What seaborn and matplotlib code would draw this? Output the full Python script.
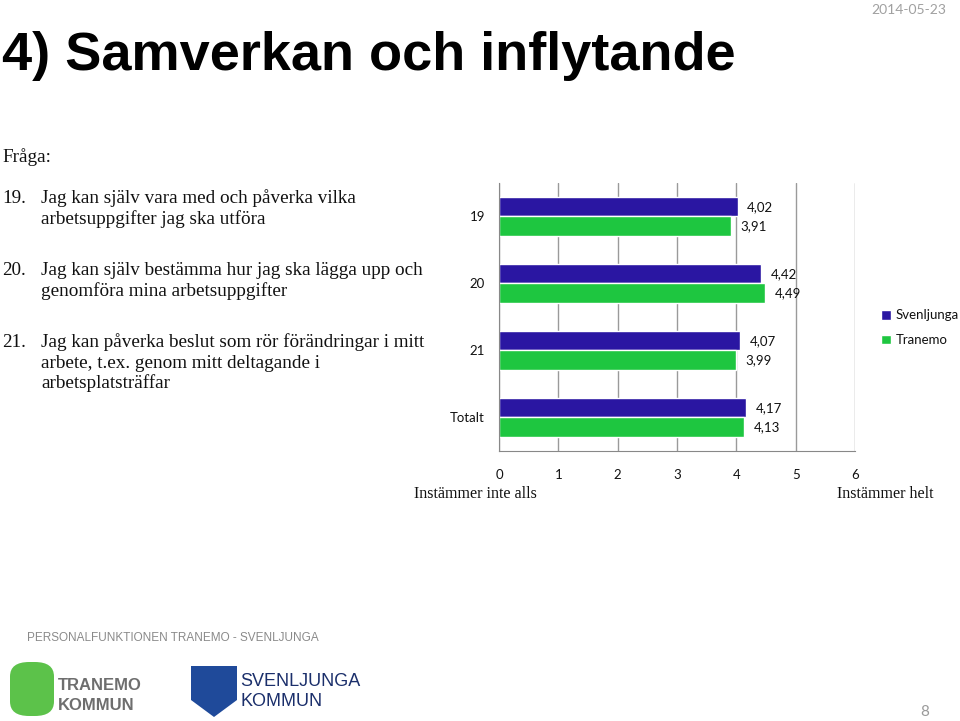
import pandas as pd
import matplotlib.pyplot as plt
import matplotlib.patches as mpatches
from matplotlib.ticker import FixedLocator
import seaborn as sns

categories = ["19", "20", "21", "Totalt"]
svenljunga = [4.02, 4.42, 4.07, 4.17]
tranemo = [3.91, 4.49, 3.99, 4.13]
regions = ["Svenljunga", "Tranemo"]
colors = ["#2a16a2", "#1ec640"]
x_ticks = [0, 1, 2, 3, 4, 5, 6]

questions = [
    ("19.", ["Jag kan själv vara med och påverka vilka", "arbetsuppgifter jag ska utföra"]),
    ("20.", ["Jag kan själv bestämma hur jag ska lägga upp och", "genomföra mina arbetsuppgifter"]),
    ("21.", ["Jag kan påverka beslut som rör förändringar i mitt", "arbete, t.ex. genom mitt deltagande i", "arbetsplatsträffar"]),
]

df = pd.DataFrame({
    "Fråga": categories * 2,
    "Medel": svenljunga + tranemo,
    "Kommun": [regions[0]] * 4 + [regions[1]] * 4,
})

sns.set_style("white")
plt.rcParams["font.family"] = ["Lato", "DejaVu Sans"]
plt.rcParams["text.color"] = "#111111"
plt.rcParams["xtick.color"] = "#111111"
plt.rcParams["ytick.color"] = "#111111"

fig = plt.figure(figsize=(9.6, 7.21), dpi=100)
ax = fig.add_axes([0.5198, 0.3745, 0.3708, 0.3717])

sns.barplot(data=df, y="Fråga", x="Medel", hue="Kommun", order=categories,
            hue_order=regions, palette=colors, orient="h", width=0.57,
            gap=0, ax=ax, legend=True, saturation=1)

for cont in ax.containers:
    ax.bar_label(cont, labels=[f"{v:.2f}".replace(".", ",") for v in cont.datavalues],
                 padding=7, fontsize=9.5, color="#111111")

ax.set_xlim(0, 6)
ax.set_ylim(3.5, -0.5)
ax.set_xticks(x_ticks)
ax.set_xticklabels([str(t) for t in x_ticks], fontsize=9.5)
ax.set_xlabel("")
ax.set_ylabel("")
ax.tick_params(axis="y", labelsize=9.5, length=0, pad=10)
ax.yaxis.set_minor_locator(FixedLocator([-0.5, 0.5, 1.5, 2.5, 3.5]))
ax.tick_params(axis="y", which="minor", length=5, color="#888888", direction="out")
ax.tick_params(axis="x", length=5, color="#888888", direction="out", pad=8)
ax.xaxis.grid(True, color="#9a9a9a", linewidth=1)
ax.set_axisbelow(True)
for s in ["top", "right"]:
    ax.spines[s].set_visible(False)
for s in ["left", "bottom"]:
    ax.spines[s].set_color("#888888")

leg = ax.legend(loc="center left", bbox_to_anchor=(1.058, 0.46), frameon=False,
                fontsize=9.5, handlelength=0.75, handleheight=0.75, handletextpad=0.35,
                labelspacing=0.95, borderaxespad=0)

serif = ["Liberation Serif", "DejaVu Serif"]
fig.text(475 / 960, 1 - 498 / 721, "Instämmer inte alls", family=serif, fontsize=11.6,
         ha="center", va="baseline")
fig.text(885 / 960, 1 - 498 / 721, "Instämmer helt", family=serif, fontsize=11.6,
         ha="center", va="baseline")

# title and header
fig.text(2 / 960, 1 - 70 / 721, "4) Samverkan och inflytande", fontsize=39,
         fontweight="bold", color="black", family=["Liberation Sans", "DejaVu Sans"],
         va="baseline")
fig.text(946 / 960, 1 - 14 / 721, "2014-05-23", fontsize=10, color="#a0a0a0",
         ha="right", va="baseline")

# question text
fig.text(2 / 960, 1 - 162 / 721, "Fråga:", family=serif, fontsize=13.8, va="baseline")
y0 = [203, 275, 347]
for (num, lines), y in zip(questions, y0):
    fig.text(2 / 960, 1 - y / 721, num, family=serif, fontsize=13.8, va="baseline")
    for i, line in enumerate(lines):
        fig.text(41 / 960, 1 - (y + i * 20.5) / 721, line, family=serif, fontsize=13.8,
                 va="baseline")

# footer
fig.text(27 / 960, 1 - 641 / 721, "PERSONALFUNKTIONEN TRANEMO - SVENLJUNGA",
         fontsize=8.5, color="#8a8a8a", family=["Liberation Sans", "DejaVu Sans"],
         va="baseline")
fig.text(925 / 960, 1 - 716 / 721, "8", fontsize=11, color="#9a9a9a", ha="center",
         va="baseline")

# simple logo shapes
fig.patches.append(mpatches.FancyBboxPatch((10 / 960, 1 - 716 / 721), 44 / 960, 54 / 721,
                   boxstyle="round,pad=0,rounding_size=0.02", transform=fig.transFigure,
                   facecolor="#5cc24a", edgecolor="none"))
fig.text(58 / 960, 1 - 690 / 721, "TRANEMO", fontsize=12, fontweight="bold",
         color="#6e6e6e", family=["Liberation Sans", "DejaVu Sans"], va="baseline")
fig.text(58 / 960, 1 - 710 / 721, "KOMMUN", fontsize=12, fontweight="bold",
         color="#6e6e6e", family=["Liberation Sans", "DejaVu Sans"], va="baseline")
fig.patches.append(mpatches.Polygon([(191 / 960, 1 - 666 / 721), (237 / 960, 1 - 666 / 721),
                   (237 / 960, 1 - 700 / 721), (214 / 960, 1 - 717 / 721),
                   (191 / 960, 1 - 700 / 721)], closed=True, transform=fig.transFigure,
                   facecolor="#1f4a9a", edgecolor="none"))
fig.text(240 / 960, 1 - 686 / 721, "SVENLJUNGA", fontsize=13, color="#1b2f6b",
         family=["Liberation Sans", "DejaVu Sans"], va="baseline")
fig.text(240 / 960, 1 - 706 / 721, "KOMMUN", fontsize=13, color="#1b2f6b",
         family=["Liberation Sans", "DejaVu Sans"], va="baseline")

fig.savefig("out.png", dpi=100)
